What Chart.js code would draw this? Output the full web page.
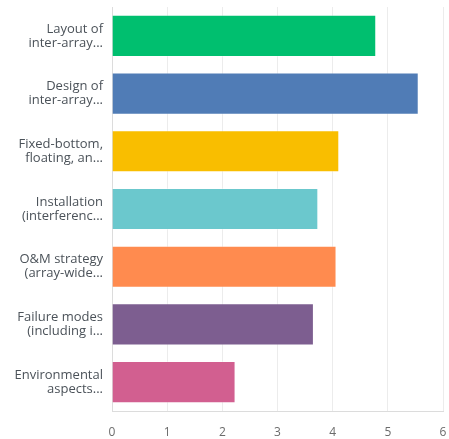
<!DOCTYPE html>
<html>
<head>
<meta charset="utf-8">
<script src="https://cdn.jsdelivr.net/npm/chart.js@4/dist/chart.umd.min.js"></script>
<style>
  html, body { margin: 0; padding: 0; background: #ffffff; }
  #wrap { width: 449px; height: 439px; position: relative; }
</style>
</head>
<body>
<div id="wrap"><canvas id="chart"></canvas></div>
<script>
// Answer options (wrapped, truncated as shown on the axis)
const categories = [
  ['Layout of', 'inter-array...'],
  ['Design of', 'inter-array...'],
  ['Fixed-bottom,', 'floating, an...'],
  ['Installation', '(interferenc...'],
  ['O&M strategy', '(array-wide...'],
  ['Failure modes', '(including i...'],
  ['Environmental', 'aspects...']
];

// Average score per option
const scores = [4.79, 5.56, 4.12, 3.74, 4.07, 3.66, 2.24];

// One colour per bar
const barColors = ['#00BF6F', '#507CB6', '#F9BE00', '#6BC8CD', '#FF8B4F', '#7D5E90', '#D25F90'];

// Value axis tick values
const xTicks = [0, 1, 2, 3, 4, 5, 6];

const fontFamily = '"Open Sans", "Noto Sans", sans-serif';

new Chart(document.getElementById('chart'), {
  type: 'bar',
  data: {
    labels: categories,
    datasets: [{
      data: scores,
      backgroundColor: barColors,
      borderColor: 'rgba(255,255,255,0.35)',
      borderWidth: 1,
      barPercentage: 0.73,
      categoryPercentage: 1.0
    }]
  },
  options: {
    indexAxis: 'y',
    responsive: true,
    maintainAspectRatio: false,
    animation: false,
    layout: { padding: { top: 7, right: 6, bottom: 0, left: 0 } },
    plugins: {
      legend: { display: false },
      tooltip: { enabled: false }
    },
    scales: {
      x: {
        min: 0,
        max: 6,
        afterBuildTicks: (axis) => { axis.ticks = xTicks.map(v => ({ value: v })); },
        afterFit: (axis) => {
          axis.height = 28;
          axis.paddingLeft = 0;
          axis.paddingRight = 0;
        },
        grid: { color: '#ececec', lineWidth: 1, drawTicks: false },
        border: { display: true, color: '#dcdcdc' },
        ticks: {
          padding: 14,
          color: '#6b6b6b',
          font: { family: fontFamily, size: 12 }
        }
      },
      y: {
        afterFit: (axis) => {
          axis.width = 112;
          axis.paddingTop = 0;
          axis.paddingBottom = 0;
        },
        grid: { display: false, drawTicks: false },
        border: { display: true, color: '#dcdcdc' },
        ticks: {
          padding: 9,
          color: '#4b5259',
          font: { family: fontFamily, size: 13, lineHeight: 1.08 }
        }
      }
    }
  }
});
</script>
</body>
</html>
